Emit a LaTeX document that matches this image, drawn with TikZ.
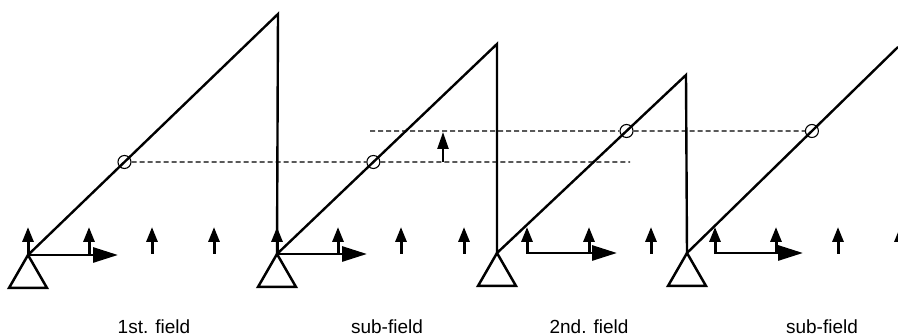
\documentclass[tikz,border=0pt]{standalone}
\usepackage{fontspec}
\setmainfont{Liberation Sans}
\usetikzlibrary{arrows.meta}
\begin{document}
\begin{tikzpicture}[x=1pt,y=-1pt,
  beam/.style={line width=2.4pt},
  supportshape/.style={line width=2.5pt},
  dimline/.style={dash pattern=on 5pt off 3pt, line width=1.4pt},
  loadarrow/.style={line width=3pt,-{Triangle[length=15pt,width=11pt]}},
  axisarrow/.style={line width=2.8pt,-{Triangle[length=25pt,width=15pt]}},
  ring/.style={circle,draw,line width=1.1pt,minimum size=13pt,inner sep=0pt},
  lbl/.style={font=\fontsize{19}{22}\selectfont}]
\useasboundingbox (0,0) rectangle (898,336);
% apex / peak coordinates
\coordinate (A1) at (28,255);
\coordinate (A2) at (277,254);
\coordinate (A3) at (497,253);
\coordinate (A4) at (687,253);
\coordinate (P1) at (278,14);
\coordinate (P2) at (497,44);
\coordinate (P3) at (686,75);
\coordinate (P4) at (898,47);
% sawtooth beams
\draw[beam] (A1) -- (P1) -- (A2) -- (P2) -- (A3) -- (P3) -- (A4) -- (P4);
% supports
\foreach \a in {A1,A2,A3,A4}
  \draw[supportshape] (\a) -- ++(-19,33) -- ++(38,0) -- cycle;
% reference heights
\coordinate (La) at (0,162); \coordinate (Lb) at (900,162);
\coordinate (Ua) at (0,131); \coordinate (Ub) at (900,131);
\node[ring] (C1) at (intersection of A1--P1 and La--Lb) {};
\node[ring] (C2) at (intersection of A2--P2 and La--Lb) {};
\node[ring] (C3) at (intersection of A3--P3 and Ua--Ub) {};
\node[ring] (C4) at (intersection of A4--P4 and Ua--Ub) {};
\coordinate (Lend) at (630,162);
\coordinate (Ustart) at (370,131);
\draw[dimline] (C1.east) -- (C2.west);
\draw[dimline] (C2.east) -- (Lend);
\draw[dimline] (Ustart) -- (C3.west);
\draw[dimline] (C3.east) -- (C4.west);
% offset arrow
\coordinate (Sa) at (443,162);
\coordinate (Sb) at (443,132);
\draw[line width=2.4pt,-{Triangle[length=17pt,width=11pt]}] (Sa) -- (Sb);
% vertical loads
\foreach \x in {28,89,152,214,277,338,401,464,527,589,651,715,776,838,900}{
  \coordinate (Vb\x) at (\x,254);
  \coordinate (Vt\x) at (\x,227);
  \draw[loadarrow] (Vb\x) -- (Vt\x);
}
% horizontal axes
\coordinate (H1a) at (28,255);  \coordinate (H1b) at (118,255);
\coordinate (H2a) at (277,254); \coordinate (H2b) at (367,254);
\coordinate (H3a) at (527,253); \coordinate (H3b) at (617,253);
\coordinate (H4a) at (715,253); \coordinate (H4b) at (803,253);
\draw[axisarrow] (H1a) -- (H1b);
\draw[axisarrow] (H2a) -- (H2b);
\draw[axisarrow] (H3a) -- (H3b);
\draw[axisarrow] (H4a) -- (H4b);
% labels
\node[lbl] (t1) at (154,327) {1st. field};
\node[lbl] (t2) at (387,327) {sub-field};
\node[lbl] (t3) at (589,327) {2nd. field};
\node[lbl] (t4) at (822,327) {sub-field};
\end{tikzpicture}
\end{document}
